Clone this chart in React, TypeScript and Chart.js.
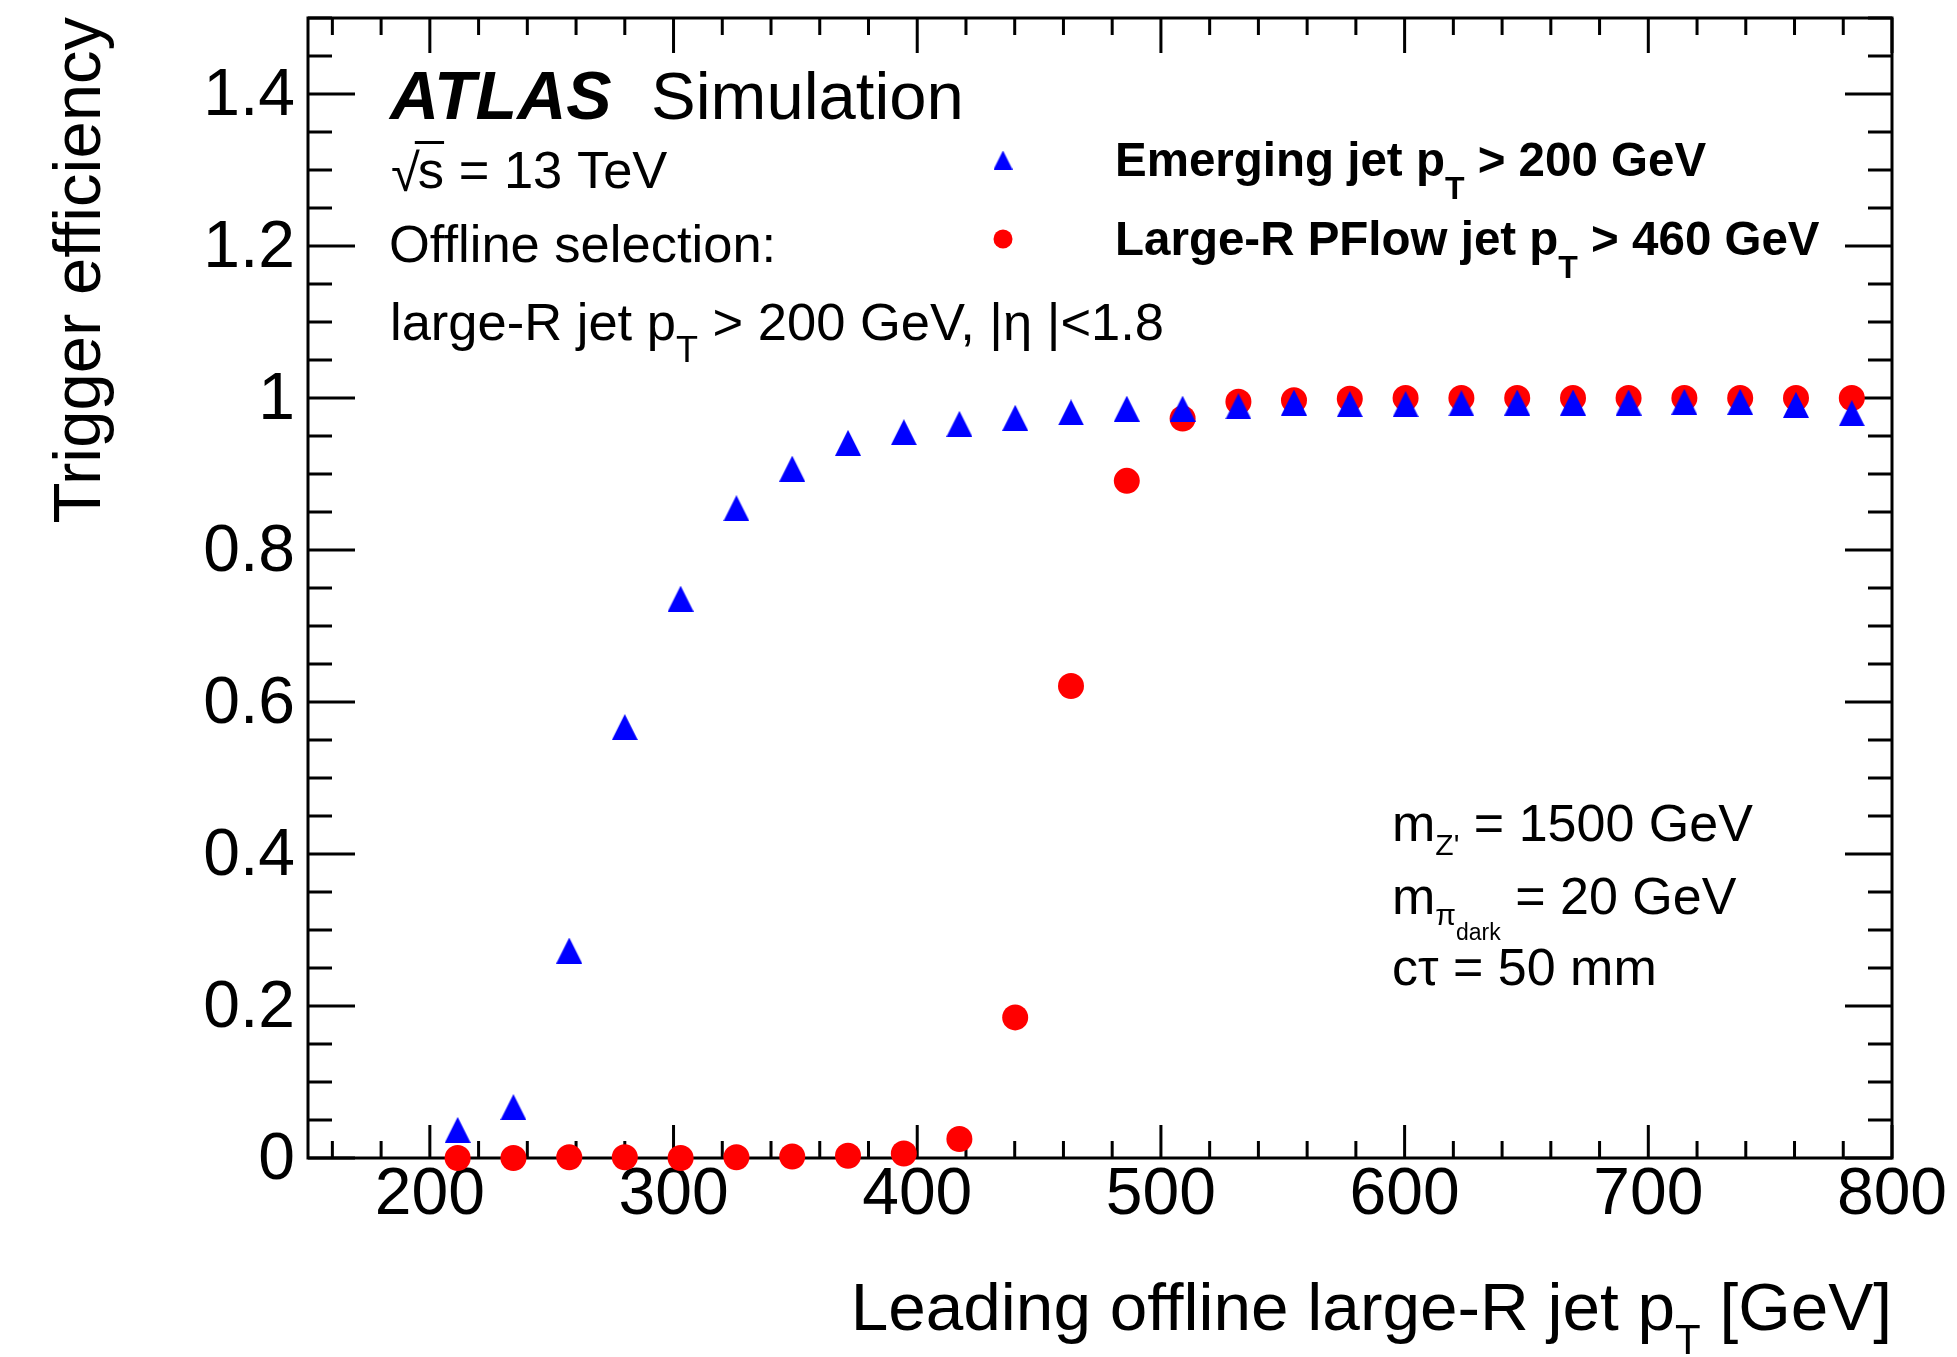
import React, { useEffect, useRef } from 'react';
import { Chart, registerables } from 'chart.js';

Chart.register(...registerables);

// ---------------- data ----------------
const PT_CENTERS = [
  211.4, 234.3, 257.2, 280.0, 302.9, 325.8, 348.7, 371.6, 394.5, 417.3, 440.2, 463.1, 486.0,
  508.9, 531.8, 554.6, 577.5, 600.4, 623.3, 646.2, 669.1, 691.9, 714.8, 737.7, 760.6, 783.5,
];
const EMERGING_JET_EFF = [
  0.037, 0.067, 0.273, 0.567, 0.736, 0.855, 0.907, 0.941, 0.955, 0.966, 0.974, 0.981, 0.986,
  0.986, 0.989, 0.994, 0.992, 0.992, 0.993, 0.994, 0.994, 0.994, 0.995, 0.995, 0.991, 0.980,
];
const LARGE_R_PFLOW_EFF = [
  0.0, 0.0, 0.001, 0.001, 0.0, 0.001, 0.002, 0.003, 0.006, 0.025, 0.185, 0.621, 0.891,
  0.973, 0.995, 0.997, 0.999, 1.0, 1.0, 1.0, 1.0, 1.0, 1.0, 1.0, 1.0, 1.0,
];

const X_TICKS = [200, 300, 400, 500, 600, 700, 800];
const X_TICK_LABELS = ['200', '300', '400', '500', '600', '700', '800'];
const Y_TICKS = [0, 0.2, 0.4, 0.6, 0.8, 1.0, 1.2, 1.4];
const Y_TICK_LABELS = ['0', '0.2', '0.4', '0.6', '0.8', '1', '1.2', '1.4'];
const X_MIN = 150;
const X_MAX = 800;
const Y_MIN = 0;
const Y_MAX = 1.5;
const X_MINOR_STEP = 20;
const Y_MINOR_STEP = 0.05;

const Y_TITLE = 'Trigger efficiency';
const X_TITLE_MAIN = 'Leading offline large-R jet p';
const X_TITLE_SUB = 'T';
const X_TITLE_TAIL = ' [GeV]';

const SERIES_LABELS = ['Emerging jet p', 'Large-R PFlow jet p'];
const SERIES_TAILS = [' > 200 GeV', ' > 460 GeV'];
const SERIES_COLORS = ['#0000ff', '#ff0000'];

const FAMILY = '"Liberation Sans", Arial, Helvetica, sans-serif';

type Seg = { t: string; size: number; weight?: string; style?: string; dy?: number };

function fontStr(size: number, weight = 'normal', style = 'normal') {
  return `${style} ${weight} ${size}px ${FAMILY}`;
}

function segWidth(ctx: CanvasRenderingContext2D, segs: Seg[]) {
  let w = 0;
  for (const s of segs) {
    ctx.font = fontStr(s.size, s.weight, s.style);
    w += ctx.measureText(s.t).width;
  }
  return w;
}

function drawSegs(ctx: CanvasRenderingContext2D, x: number, y: number, segs: Seg[]) {
  let cx = x;
  for (const s of segs) {
    ctx.font = fontStr(s.size, s.weight, s.style);
    ctx.fillText(s.t, cx, y + (s.dy || 0));
    cx += ctx.measureText(s.t).width;
  }
  return cx;
}

function makeTriangle(size: number, color: string) {
  const c = document.createElement('canvas');
  c.width = size;
  c.height = size;
  const g = c.getContext('2d')!;
  g.fillStyle = color;
  g.beginPath();
  g.moveTo(size / 2, 0);
  g.lineTo(size, size);
  g.lineTo(0, size);
  g.closePath();
  g.fill();
  return c;
}

const framePlugin = {
  id: 'rootFrame',
  beforeDatasetsDraw(chart: any) {
    const { ctx, chartArea } = chart;
    const { left, right, top, bottom } = chartArea;
    const xs = chart.scales.x;
    const ys = chart.scales.y;
    ctx.save();
    ctx.strokeStyle = '#000';
    ctx.lineWidth = 3;
    ctx.strokeRect(left, top, right - left, bottom - top);
    ctx.beginPath();
    const nY = Math.round((Y_MAX - Y_MIN) / Y_MINOR_STEP);
    for (let k = 0; k <= nY; k++) {
      const v = Y_MIN + k * Y_MINOR_STEP;
      const major = Y_TICKS.some((t) => Math.abs(t - v) < 1e-6);
      const len = major ? 47 : 24;
      const p = ys.getPixelForValue(v);
      ctx.moveTo(left, p);
      ctx.lineTo(left + len, p);
      ctx.moveTo(right, p);
      ctx.lineTo(right - len, p);
    }
    for (let v = X_MIN + 10; v <= X_MAX + 1e-6; v += X_MINOR_STEP) {
      const major = X_TICKS.some((t) => Math.abs(t - v) < 1e-6);
      const lenB = major ? 33 : 17;
      const lenT = major ? 35 : 17;
      const p = xs.getPixelForValue(v);
      ctx.moveTo(p, bottom);
      ctx.lineTo(p, bottom - lenB);
      ctx.moveTo(p, top);
      ctx.lineTo(p, top + lenT);
    }
    ctx.stroke();
    ctx.restore();
  },
  afterDraw(chart: any) {
    const { ctx, chartArea } = chart;
    ctx.save();
    ctx.fillStyle = '#000';
    ctx.textAlign = 'left';
    ctx.textBaseline = 'alphabetic';

    // y title
    ctx.save();
    ctx.translate(100, chartArea.top - 1);
    ctx.rotate(-Math.PI / 2);
    ctx.textAlign = 'right';
    ctx.font = fontStr(67);
    ctx.fillText(Y_TITLE, 0, 0);
    ctx.restore();

    // x title
    const xt: Seg[] = [
      { t: X_TITLE_MAIN, size: 67.5 },
      { t: X_TITLE_SUB, size: 42, dy: 24 },
      { t: X_TITLE_TAIL, size: 67.5 },
    ];
    const w = segWidth(ctx, xt);
    drawSegs(ctx, chartArea.right - w, 1330, xt);

    // ATLAS Simulation
    drawSegs(ctx, 390, 119, [{ t: 'ATLAS', size: 68, weight: 'bold', style: 'italic' }]);
    drawSegs(ctx, 651, 119, [{ t: 'Simulation', size: 67 }]);

    // sqrt(s) = 13 TeV
    ctx.font = fontStr(52.5);
    ctx.fillText('\u221A', 391, 191);
    const rw = ctx.measureText('\u221A').width;
    const sx = 391 + rw - 2;
    ctx.fillText('s', sx, 188);
    const sw = ctx.measureText('s').width;
    ctx.fillRect(sx - 3, 141, sw + 3, 3);
    ctx.fillText(' = 13 TeV', sx + sw, 188);

    drawSegs(ctx, 389, 262, [{ t: 'Offline selection:', size: 52.5 }]);
    drawSegs(ctx, 390, 340, [
      { t: 'large-R jet p', size: 52.5 },
      { t: 'T', size: 36, dy: 22 },
      { t: ' > 200 GeV, |\u03B7 |<1.8', size: 52.5 },
    ]);

    // legend
    const legY = [160, 239];
    const legBase = [176, 255];
    for (let i = 0; i < 2; i++) {
      ctx.fillStyle = SERIES_COLORS[i];
      if (i === 0) {
        const tri = makeTriangle(19, SERIES_COLORS[0]);
        ctx.drawImage(tri, 1003 - 9.5, legY[i] - 9.5);
      } else {
        ctx.beginPath();
        ctx.arc(1003, legY[i], 9.5, 0, Math.PI * 2);
        ctx.fill();
      }
      ctx.fillStyle = '#000';
      drawSegs(ctx, 1115, legBase[i], [
        { t: SERIES_LABELS[i], size: 47.5, weight: 'bold' },
        { t: 'T', size: 32, weight: 'bold', dy: 23 },
        { t: SERIES_TAILS[i], size: 47.5, weight: 'bold' },
      ]);
    }

    // model parameters
    drawSegs(ctx, 1392, 841, [
      { t: 'm', size: 52 },
      { t: "Z'", size: 30, dy: 14 },
      { t: ' = 1500 GeV', size: 52 },
    ]);
    drawSegs(ctx, 1392, 914, [
      { t: 'm', size: 52 },
      { t: '\u03C0', size: 30, dy: 11 },
      { t: 'dark', size: 23, dy: 26 },
      { t: ' = 20 GeV', size: 52 },
    ]);
    drawSegs(ctx, 1392, 985, [{ t: 'c\u03C4 = 50 mm', size: 52 }]);

    ctx.restore();
  },
};

export default function App() {
  const ref = useRef<HTMLCanvasElement | null>(null);

  useEffect(() => {
    const canvas = ref.current;
    if (!canvas) return;
    const tri = makeTriangle(26, SERIES_COLORS[0]);
    const tickFont = { family: FAMILY, size: 66, lineHeight: 1 };
    const chart = new Chart(canvas, {
      type: 'scatter',
      data: {
        datasets: [
          {
            label: SERIES_LABELS[0] + 'T' + SERIES_TAILS[0],
            data: PT_CENTERS.map((x, i) => ({ x, y: EMERGING_JET_EFF[i] })),
            pointStyle: tri as any,
            pointRadius: 13,
            backgroundColor: SERIES_COLORS[0],
            borderColor: SERIES_COLORS[0],
            borderWidth: 0,
            showLine: false,
            clip: false as any,
          },
          {
            label: SERIES_LABELS[1] + 'T' + SERIES_TAILS[1],
            data: PT_CENTERS.map((x, i) => ({ x, y: LARGE_R_PFLOW_EFF[i] })),
            pointStyle: 'circle',
            pointRadius: 13,
            backgroundColor: SERIES_COLORS[1],
            borderColor: SERIES_COLORS[1],
            borderWidth: 0,
            showLine: false,
            clip: false as any,
          },
        ],
      },
      options: {
        animation: false,
        responsive: false,
        devicePixelRatio: 1,
        events: [],
        layout: { padding: { top: 18, right: 65, left: 0, bottom: 0 } },
        plugins: { legend: { display: false }, tooltip: { enabled: false }, title: { display: false } },
        scales: {
          x: {
            type: 'linear',
            position: 'bottom',
            min: X_MIN,
            max: X_MAX,
            grid: { display: false, drawTicks: false },
            border: { display: false },
            ticks: {
              font: tickFont,
              color: '#000',
              padding: 5,
              maxRotation: 0,
              autoSkip: false,
              callback: (v: any) => {
                const i = X_TICKS.findIndex((t) => Math.abs(t - Number(v)) < 1e-6);
                return i >= 0 ? X_TICK_LABELS[i] : '';
              },
            },
            afterBuildTicks: (s: any) => {
              s.ticks = X_TICKS.map((v) => ({ value: v }));
            },
            afterFit: (s: any) => {
              s.height = 199;
              s.paddingLeft = 0;
              s.paddingRight = 0;
              s.paddingTop = 0;
              s.paddingBottom = 0;
            },
          },
          y: {
            type: 'linear',
            position: 'left',
            min: Y_MIN,
            max: Y_MAX,
            grid: { display: false, drawTicks: false },
            border: { display: false },
            ticks: {
              font: tickFont,
              color: '#000',
              padding: 13,
              labelOffset: 3,
              autoSkip: false,
              callback: (v: any) => {
                const i = Y_TICKS.findIndex((t) => Math.abs(t - Number(v)) < 1e-6);
                return i >= 0 ? Y_TICK_LABELS[i] : '';
              },
            },
            afterBuildTicks: (s: any) => {
              s.ticks = Y_TICKS.map((v) => ({ value: v }));
            },
            afterFit: (s: any) => {
              s.width = 308;
              s.paddingLeft = 0;
              s.paddingRight = 0;
              s.paddingTop = 0;
              s.paddingBottom = 0;
            },
          },
        },
      } as any,
      plugins: [framePlugin],
    });
    return () => chart.destroy();
  }, []);

  return (
    <div style={{ position: 'absolute', left: 0, top: 0, width: 1957, height: 1357, background: '#fff' }}>
      <canvas ref={ref} width={1957} height={1357} style={{ display: 'block', width: 1957, height: 1357 }} />
    </div>
  );
}
